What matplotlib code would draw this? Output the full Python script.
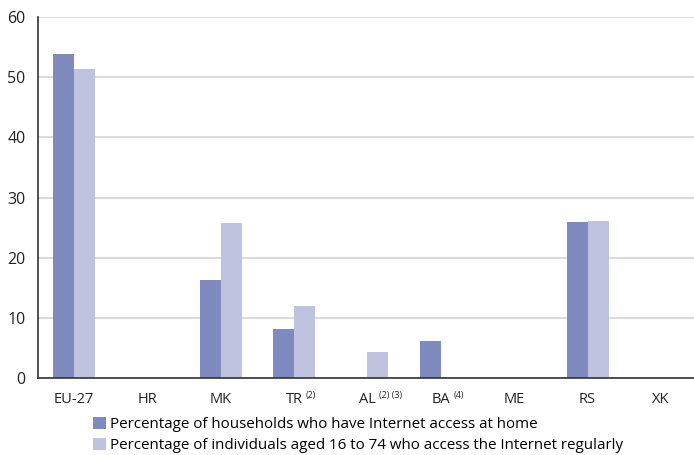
import matplotlib
matplotlib.use('Agg')
import matplotlib.pyplot as plt
import numpy as np

plt.rcParams['font.family'] = ['Open Sans', 'DejaVu Sans']

# data (nan = not available)
countries = ['EU-27', 'HR', 'MK', 'TR', 'AL', 'BA', 'ME', 'RS', 'XK']
notes = ['', '', '', '(2)', '(2) (3)', '(4)', '', '', '']
households = [53.8, np.nan, 16.3, 8.1, np.nan, 6.2, np.nan, 25.9, np.nan]
individuals = [51.3, np.nan, 25.8, 11.9, 4.3, np.nan, np.nan, 26.1, np.nan]
labels = ['Percentage of households who have Internet access at home',
          'Percentage of individuals aged 16 to 74 who access the Internet regularly']

dark = '#7f8bbf'
light = '#c0c3e0'

fig = plt.figure(figsize=(6.94, 4.55), dpi=100)
ax = fig.add_axes([38/694, 1 - 378/455, 1 - 38/694, (378 - 17)/455])

x = np.arange(len(countries))
w = 0.285
b1 = ax.bar(x - w/2, households, w, color=dark, label=labels[0])
b2 = ax.bar(x + w/2, individuals, w, color=light, label=labels[1])

ax.set_ylim(0, 60)
ax.set_xlim(-0.49, 8.45)
ax.set_yticks(range(0, 61, 10))
ax.yaxis.grid(True, color='#d4d4d4', linewidth=1.2)
ax.set_axisbelow(True)
ax.set_xticks(x)
ax.set_xticklabels(countries, fontsize=10.5, color='#222222')
ax.tick_params(axis='y', labelsize=11.5, colors='#222222', length=0, pad=9)
ax.tick_params(axis='x', length=0, pad=10)
for s in ['top', 'right']:
    ax.spines[s].set_visible(False)
for s in ['left', 'bottom']:
    ax.spines[s].set_color('#333333')
    ax.spines[s].set_linewidth(1.2)

# footnote marks hang to the right of the country codes
fig.canvas.draw()
inv = fig.transFigure.inverted()
for lab, note in zip(ax.get_xticklabels(), notes):
    if note:
        bb = lab.get_window_extent()
        px, py = inv.transform((bb.x1 + 3, bb.y1 + 1))
        fig.text(px, py, note, fontsize=6.5, color='#222222', ha='left', va='top')

fig.legend(handles=[b1, b2], loc='upper left', bbox_to_anchor=(93/694, 1 - 417/455),
           frameon=False, fontsize=10.9, handlelength=0.85, handleheight=0.85,
           handletextpad=0.3, labelspacing=0.35, borderaxespad=0, borderpad=0)

plt.savefig('out.png', dpi=100)
plt.close()
